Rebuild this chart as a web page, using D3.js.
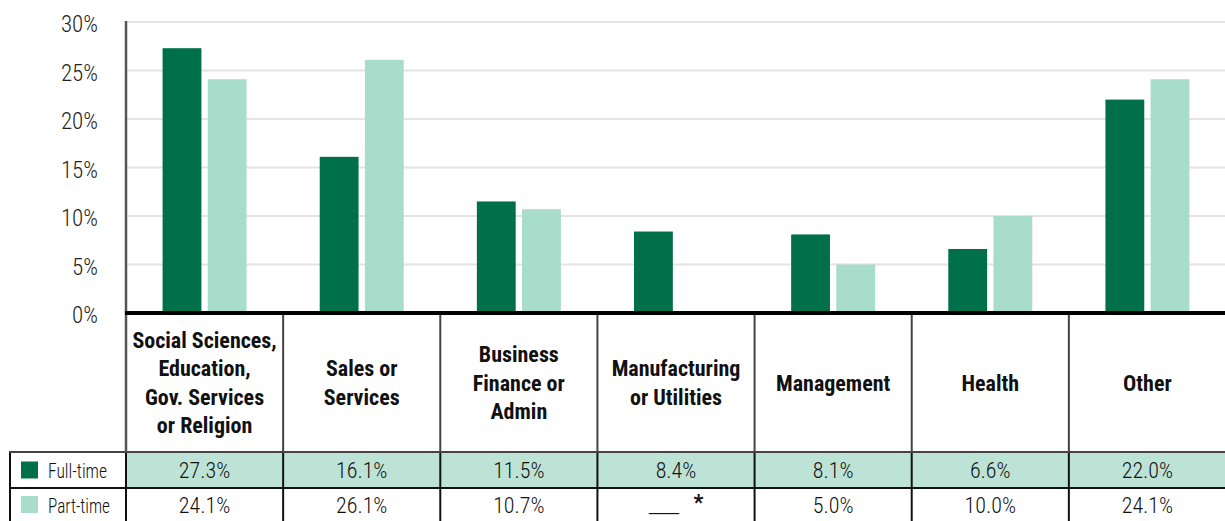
<!DOCTYPE html>
<html>
<head>
<meta charset="utf-8">
<script src="https://cdn.jsdelivr.net/npm/d3@7"></script>
<style>
  body { margin: 0; background: #fff; }
  svg { display: block; }
  svg text { font-family: "Roboto", sans-serif; font-stretch: 75%; }
  .light { font-weight: 300; }
</style>
</head>
<body>
<div id="chart"></div>
<script>
// data
var categories = [
	["Social Sciences,", "Education,", "Gov. Services", "or Religion"],
	["Sales or", "Services"],
	["Business", "Finance or", "Admin"],
	["Manufacturing", "or Utilities"],
	["Management"],
	["Health"],
	["Other"]
];
var catKeys = ["social", "sales", "business", "manufacturing", "management", "health", "other"];
var fullTime = [27.3, 16.1, 11.5, 8.4, 8.1, 6.6, 22.0];
var partTime = [24.1, 26.1, 10.7, null, 5.0, 10.0, 24.1];
var fullTimeLabels = ["27.3%", "16.1%", "11.5%", "8.4%", "8.1%", "6.6%", "22.0%"];
var partTimeLabels = ["24.1%", "26.1%", "10.7%", "*", "5.0%", "10.0%", "24.1%"];
var yTicks = [0, 5, 10, 15, 20, 25, 30];
var seriesNames = ["Full-time", "Part-time"];

var darkGreen = "#00704a";
var lightGreen = "#a8dccb";
var rowFill = "#bde3d6";

var W = 1225, H = 521;
var svg = d3.select('#chart').append('svg')
	.attr('width', W)
	.attr('height', H);

var x = d3.scaleBand().domain(catKeys).range([126, 1226]);
var bw = x.bandwidth();
var xSub = d3.scaleBand().domain(seriesNames).range([bw / 2 - 42, bw / 2 + 42]).paddingInner(0.14);
var y = d3.scaleLinear().domain([0, 30]).range([313, 22]);

var rowTop = 452, rowMid = 488, rowBot = 521;

// gridlines
svg.append('g').selectAll('line')
	.data(yTicks)
	.enter()
	.append('line')
	.attr('x1', 126).attr('x2', W)
	.attr('y1', function(d){ return y(d); })
	.attr('y2', function(d){ return y(d); })
	.attr('stroke', '#e4e4e4')
	.attr('stroke-width', 2);

// y tick labels
var yAxis = d3.axisLeft(y).tickValues(yTicks).tickSize(0).tickPadding(28)
	.tickFormat(function(d){ return d + '%'; });
var ya = svg.append('g').attr('transform', 'translate(126,0)').call(yAxis);
ya.select('.domain').remove();
ya.attr('font-family', null).attr('font-size', null);
ya.selectAll('text')
	.attr('class', 'light')
	.attr('font-size', '23px')
	.attr('dy', '0.42em')
	.attr('fill', '#222');

// bars
var groups = svg.append('g').selectAll('g')
	.data(catKeys)
	.enter()
	.append('g')
	.attr('transform', function(d){ return 'translate(' + x(d) + ',0)'; });

groups.selectAll('rect')
	.data(function(d, i){
		return [
			{ s: seriesNames[0], v: fullTime[i], c: darkGreen },
			{ s: seriesNames[1], v: partTime[i], c: lightGreen }
		].filter(function(e){ return e.v !== null; });
	})
	.enter()
	.append('rect')
	.attr('x', function(d){ return xSub(d.s); })
	.attr('width', xSub.bandwidth())
	.attr('y', function(d){ return y(d.v); })
	.attr('height', function(d){ return y(0) - y(d.v); })
	.attr('fill', function(d){ return d.c; });

// table: full-time row fill
svg.append('rect')
	.attr('x', 126).attr('y', rowTop)
	.attr('width', W - 126).attr('height', rowMid - rowTop)
	.attr('fill', rowFill);

// vertical separators in the category row
var bounds = catKeys.slice(1).map(function(d){ return x(d); });
svg.append('g').selectAll('line')
	.data(bounds)
	.enter()
	.append('line')
	.attr('x1', function(d){ return d; }).attr('x2', function(d){ return d; })
	.attr('y1', 313).attr('y2', rowTop)
	.attr('stroke', '#444').attr('stroke-width', 2);

// vertical separators in the data rows
svg.append('g').selectAll('line')
	.data([10, 126].concat(bounds))
	.enter()
	.append('line')
	.attr('x1', function(d){ return d; }).attr('x2', function(d){ return d; })
	.attr('y1', rowTop).attr('y2', rowBot)
	.attr('stroke', '#111').attr('stroke-width', 2);

// horizontal table lines
svg.append('line')
	.attr('x1', 9).attr('x2', W).attr('y1', rowTop).attr('y2', rowTop)
	.attr('stroke', '#444').attr('stroke-width', 2);
svg.append('line')
	.attr('x1', 9).attr('x2', W).attr('y1', rowMid).attr('y2', rowMid)
	.attr('stroke', '#111').attr('stroke-width', 2);

// y axis line
svg.append('line')
	.attr('x1', 126).attr('x2', 126).attr('y1', 21).attr('y2', rowTop)
	.attr('stroke', '#555').attr('stroke-width', 2.5);

// baseline
svg.append('line')
	.attr('x1', 125).attr('x2', W).attr('y1', y(0)).attr('y2', y(0))
	.attr('stroke', '#000').attr('stroke-width', 4);

// category labels
var lineH = 28.6;
var catMid = (313 + rowTop) / 2 + 8;
svg.append('g').selectAll('text')
	.data(categories)
	.enter()
	.append('text')
	.attr('text-anchor', 'middle')
	.attr('font-size', '22px')
	.attr('font-weight', 'bold')
	.attr('fill', '#111')
	.each(function(lines, i){
		var t = d3.select(this);
		var cx = x(catKeys[i]) + bw / 2;
		var y0 = catMid - (lines.length - 1) * lineH / 2;
		lines.forEach(function(l, j){
			t.append('tspan').attr('x', cx).attr('y', y0 + j * lineH).text(l);
		});
	});

// legend cells and values
var rows = [
	{ name: seriesNames[0], c: darkGreen, labels: fullTimeLabels, top: rowTop, bot: rowMid },
	{ name: seriesNames[1], c: lightGreen, labels: partTimeLabels, top: rowMid, bot: rowBot }
];
rows.forEach(function(r){
	var cy = (r.top + r.bot) / 2;
	svg.append('rect')
		.attr('x', 21).attr('y', cy - 8.5)
		.attr('width', 17).attr('height', 17)
		.attr('fill', r.c);
	svg.append('text')
		.attr('class', 'light')
		.attr('x', 48).attr('y', cy + 8)
		.attr('font-size', '21px')
		.attr('textLength', r.name === 'Full-time' ? 59 : 62)
		.attr('lengthAdjust', 'spacingAndGlyphs')
		.attr('fill', '#111')
		.text(r.name);
	svg.append('g').selectAll('text')
		.data(r.labels)
		.enter()
		.append('text')
		.attr('class', 'light')
		.attr('x', function(d, i){ return x(catKeys[i]) + bw / 2; })
		.attr('y', cy + 8)
		.attr('text-anchor', 'middle')
		.attr('font-size', '22px')
		.attr('fill', '#111')
		.each(function(d){
			var t = d3.select(this);
			if (d === '*') {
				t.append('tspan').attr('letter-spacing', -1).text('____');
				t.append('tspan').attr('dy', -3).attr('font-weight', 'bold').text('\u2002 *');
			} else {
				t.text(d);
			}
		});
});
</script>
</body>
</html>
